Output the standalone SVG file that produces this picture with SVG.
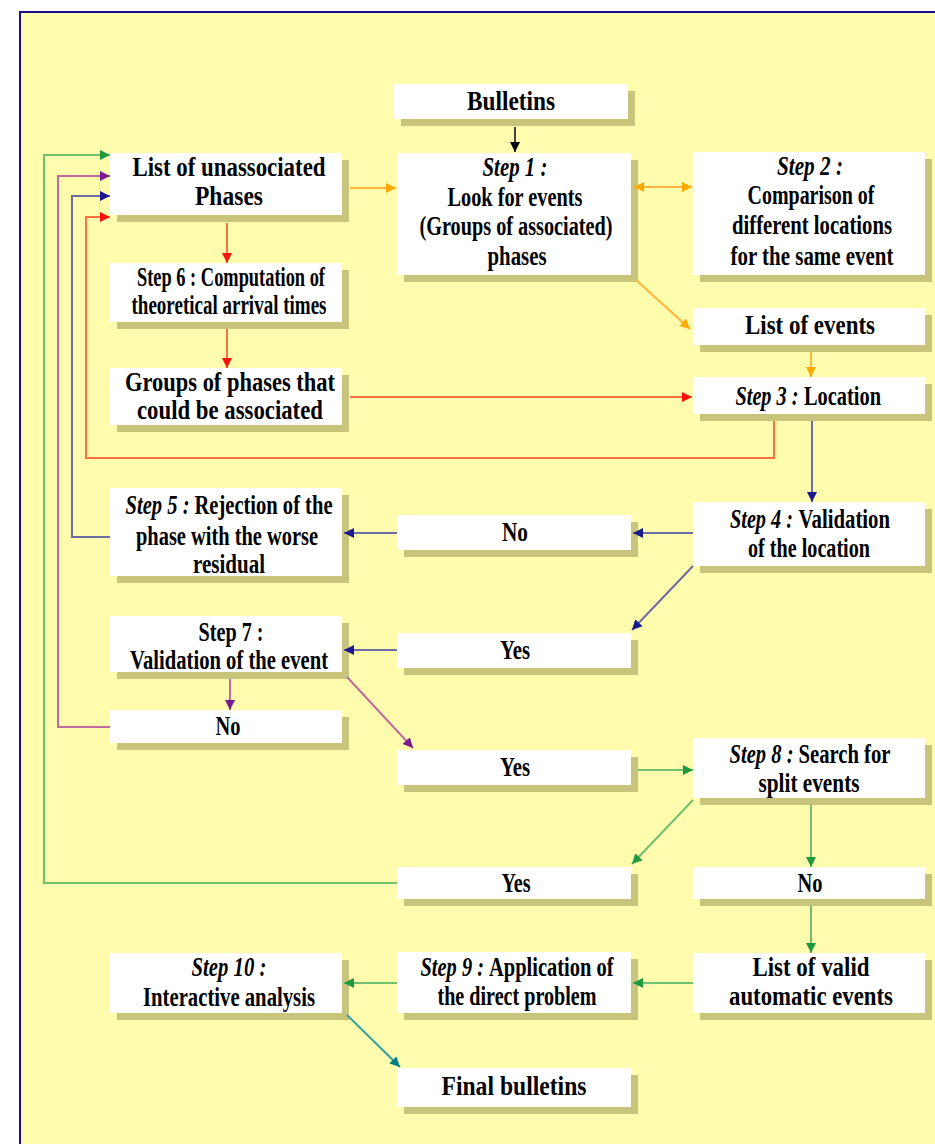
<svg xmlns="http://www.w3.org/2000/svg" width="935" height="1144" viewBox="0 0 935 1144">
<style>
.bg{fill:#FFFCAE}
.frame{fill:none;stroke:#1C0C8C;stroke-width:2}
.sh{fill:#C8C47C}
.bx{fill:#FFFFFF}
text{font-family:"Liberation Serif","Times New Roman",serif;font-weight:700;font-size:20.5px;fill:#000;text-anchor:middle}
text.s{text-anchor:start}
.i{font-style:italic}
.c{fill:none;stroke-width:2}
.k{stroke:#404040}
.g{stroke:#FFB43C}
.r{stroke:#FF7040}
.b{stroke:#6C6CA8}
.p{stroke:#C06AA0}
.n{stroke:#70C070}
.t{stroke:#30A0A0}
</style>
<defs>
<marker id="mk" viewBox="0 0 10 10" refX="10" refY="5" markerWidth="10" markerHeight="12" markerUnits="userSpaceOnUse" orient="auto"><path d="M0,0 L10,5 L0,10 z" fill="#000"/></marker>
<marker id="mg" viewBox="0 0 10 10" refX="10" refY="5" markerWidth="10" markerHeight="12" markerUnits="userSpaceOnUse" orient="auto-start-reverse"><path d="M0,0 L10,5 L0,10 z" fill="#FFA800"/></marker>
<marker id="mr" viewBox="0 0 10 10" refX="10" refY="5" markerWidth="10" markerHeight="12" markerUnits="userSpaceOnUse" orient="auto"><path d="M0,0 L10,5 L0,10 z" fill="#FF1010"/></marker>
<marker id="mb" viewBox="0 0 10 10" refX="10" refY="5" markerWidth="10" markerHeight="12" markerUnits="userSpaceOnUse" orient="auto"><path d="M0,0 L10,5 L0,10 z" fill="#1A1A8C"/></marker>
<marker id="mp" viewBox="0 0 10 10" refX="10" refY="5" markerWidth="10" markerHeight="12" markerUnits="userSpaceOnUse" orient="auto"><path d="M0,0 L10,5 L0,10 z" fill="#7A1A90"/></marker>
<marker id="mn" viewBox="0 0 10 10" refX="10" refY="5" markerWidth="10" markerHeight="12" markerUnits="userSpaceOnUse" orient="auto"><path d="M0,0 L10,5 L0,10 z" fill="#1E9A3C"/></marker>
<marker id="mt" viewBox="0 0 10 10" refX="10" refY="5" markerWidth="10" markerHeight="12" markerUnits="userSpaceOnUse" orient="auto"><path d="M0,0 L10,5 L0,10 z" fill="#008080"/></marker>
</defs>
<rect x="0" y="0" width="935" height="1144" fill="#FFFFFF"/>
<rect class="bg" x="20" y="12" width="930" height="1140"/>
<rect class="frame" x="20" y="12" width="930" height="1140"/>

<g id="bulletins"><rect class="sh" x="401" y="91" width="234" height="35"/><rect class="bx" x="394" y="84" width="234" height="35"/><text transform="translate(0 110) scale(1 1.3)" x="511" y="0" textLength="88" lengthAdjust="spacingAndGlyphs">Bulletins</text></g>
<g id="unassociated"><rect class="sh" x="117" y="160" width="232" height="62"/><rect class="bx" x="110" y="153" width="232" height="62"/><text transform="translate(0 176) scale(1 1.3)" x="229" y="0" textLength="193" lengthAdjust="spacingAndGlyphs">List of unassociated</text><text transform="translate(0 205) scale(1 1.3)" x="229" y="0" textLength="68" lengthAdjust="spacingAndGlyphs">Phases</text></g>
<g id="step1"><rect class="sh" x="404" y="160" width="234" height="122"/><rect class="bx" x="397" y="153" width="234" height="122"/><text transform="translate(0 176) scale(1 1.3)" x="515" y="0" textLength="65" lengthAdjust="spacingAndGlyphs" class="i">Step 1 :</text><text transform="translate(0 206) scale(1 1.3)" x="515" y="0" textLength="135" lengthAdjust="spacingAndGlyphs">Look for events</text><text transform="translate(0 235) scale(1 1.3)" x="516" y="0" textLength="193" lengthAdjust="spacingAndGlyphs">(Groups of associated)</text><text transform="translate(0 265) scale(1 1.3)" x="517" y="0" textLength="59" lengthAdjust="spacingAndGlyphs">phases</text></g>
<g id="step2"><rect class="sh" x="700" y="159" width="232" height="123"/><rect class="bx" x="693" y="152" width="232" height="123"/><text transform="translate(0 175) scale(1 1.3)" x="810" y="0" textLength="66" lengthAdjust="spacingAndGlyphs" class="i">Step 2 :</text><text transform="translate(0 204) scale(1 1.3)" x="811" y="0" textLength="127" lengthAdjust="spacingAndGlyphs">Comparison of</text><text transform="translate(0 234) scale(1 1.3)" x="812" y="0" textLength="160" lengthAdjust="spacingAndGlyphs">different locations</text><text transform="translate(0 265) scale(1 1.3)" x="812" y="0" textLength="163" lengthAdjust="spacingAndGlyphs">for the same event</text></g>
<g id="step6"><rect class="sh" x="117" y="270" width="232" height="59"/><rect class="bx" x="110" y="263" width="232" height="59"/><text transform="translate(0 286) scale(1 1.3)" x="231" y="0" textLength="188" lengthAdjust="spacingAndGlyphs">Step 6 : Computation of</text><text transform="translate(0 314) scale(1 1.3)" x="229" y="0" textLength="195" lengthAdjust="spacingAndGlyphs">theoretical arrival times</text></g>
<g id="groups"><rect class="sh" x="117" y="375" width="232" height="57"/><rect class="bx" x="110" y="368" width="232" height="57"/><text transform="translate(0 391) scale(1 1.3)" x="230" y="0" textLength="210" lengthAdjust="spacingAndGlyphs">Groups of phases that</text><text transform="translate(0 419) scale(1 1.3)" x="230" y="0" textLength="186" lengthAdjust="spacingAndGlyphs">could be associated</text></g>
<g id="events"><rect class="sh" x="700" y="315" width="232" height="37"/><rect class="bx" x="693" y="308" width="232" height="37"/><text transform="translate(0 334) scale(1 1.3)" x="810" y="0" textLength="130" lengthAdjust="spacingAndGlyphs">List of events</text></g>
<g id="step3"><rect class="sh" x="700" y="384" width="232" height="37"/><rect class="bx" x="693" y="377" width="232" height="37"/><text transform="translate(0 405) scale(1 1.3)" class="s i" x="735.5" y="0" textLength="63" lengthAdjust="spacingAndGlyphs">Step 3 :</text><text transform="translate(0 405) scale(1 1.3)" class="s" x="804" y="0" textLength="77" lengthAdjust="spacingAndGlyphs">Location</text></g>
<g id="step4"><rect class="sh" x="700" y="509" width="232" height="64"/><rect class="bx" x="693" y="502" width="232" height="64"/><text transform="translate(0 528) scale(1 1.3)" class="s i" x="730" y="0" textLength="63" lengthAdjust="spacingAndGlyphs">Step 4 :</text><text transform="translate(0 528) scale(1 1.3)" class="s" x="798.5" y="0" textLength="91.5" lengthAdjust="spacingAndGlyphs">Validation</text><text transform="translate(0 557) scale(1 1.3)" x="809" y="0" textLength="122" lengthAdjust="spacingAndGlyphs">of the location</text></g>
<g id="no1"><rect class="sh" x="404" y="522" width="234" height="35"/><rect class="bx" x="397" y="515" width="234" height="35"/><text transform="translate(0 541) scale(1 1.3)" x="515" y="0" textLength="26" lengthAdjust="spacingAndGlyphs">No</text></g>
<g id="step5"><rect class="sh" x="117" y="495" width="232" height="88"/><rect class="bx" x="110" y="488" width="232" height="88"/><text transform="translate(0 514) scale(1 1.3)" class="s i" x="125.5" y="0" textLength="64" lengthAdjust="spacingAndGlyphs">Step 5 :</text><text transform="translate(0 514) scale(1 1.3)" class="s" x="194.5" y="0" textLength="138" lengthAdjust="spacingAndGlyphs">Rejection of the</text><text transform="translate(0 545) scale(1 1.3)" x="227" y="0" textLength="182" lengthAdjust="spacingAndGlyphs">phase with the worse</text><text transform="translate(0 573) scale(1 1.3)" x="229" y="0" textLength="72" lengthAdjust="spacingAndGlyphs">residual</text></g>
<g id="yes1"><rect class="sh" x="404" y="640" width="234" height="35"/><rect class="bx" x="397" y="633" width="234" height="35"/><text transform="translate(0 659) scale(1 1.3)" x="515" y="0" textLength="30" lengthAdjust="spacingAndGlyphs">Yes</text></g>
<g id="step7"><rect class="sh" x="117" y="623" width="232" height="56"/><rect class="bx" x="110" y="616" width="232" height="56"/><text transform="translate(0 641) scale(1 1.3)" x="231" y="0" textLength="65" lengthAdjust="spacingAndGlyphs">Step 7 :</text><text transform="translate(0 669) scale(1 1.3)" x="229" y="0" textLength="198" lengthAdjust="spacingAndGlyphs">Validation of the event</text></g>
<g id="no2"><rect class="sh" x="117" y="717" width="232" height="33"/><rect class="bx" x="110" y="710" width="232" height="33"/><text transform="translate(0 735) scale(1 1.3)" x="228" y="0" textLength="25" lengthAdjust="spacingAndGlyphs">No</text></g>
<g id="yes2"><rect class="sh" x="404" y="757" width="234" height="35"/><rect class="bx" x="397" y="750" width="234" height="35"/><text transform="translate(0 776) scale(1 1.3)" x="515" y="0" textLength="30" lengthAdjust="spacingAndGlyphs">Yes</text></g>
<g id="step8"><rect class="sh" x="700" y="745" width="232" height="60"/><rect class="bx" x="693" y="738" width="232" height="60"/><text transform="translate(0 763) scale(1 1.3)" class="s i" x="729.5" y="0" textLength="64" lengthAdjust="spacingAndGlyphs">Step 8 :</text><text transform="translate(0 763) scale(1 1.3)" class="s" x="798.5" y="0" textLength="92" lengthAdjust="spacingAndGlyphs">Search for</text><text transform="translate(0 792) scale(1 1.3)" x="809" y="0" textLength="101" lengthAdjust="spacingAndGlyphs">split events</text></g>
<g id="yes3"><rect class="sh" x="404" y="874" width="234" height="32"/><rect class="bx" x="397" y="867" width="234" height="32"/><text transform="translate(0 892) scale(1 1.3)" x="516" y="0" textLength="29" lengthAdjust="spacingAndGlyphs">Yes</text></g>
<g id="no3"><rect class="sh" x="700" y="874" width="232" height="32"/><rect class="bx" x="693" y="867" width="232" height="32"/><text transform="translate(0 892) scale(1 1.3)" x="810" y="0" textLength="25" lengthAdjust="spacingAndGlyphs">No</text></g>
<g id="step10"><rect class="sh" x="117" y="960" width="232" height="60"/><rect class="bx" x="110" y="953" width="232" height="60"/><text transform="translate(0 976) scale(1 1.3)" x="229" y="0" textLength="75" lengthAdjust="spacingAndGlyphs" class="i">Step 10 :</text><text transform="translate(0 1006) scale(1 1.3)" x="229" y="0" textLength="172" lengthAdjust="spacingAndGlyphs">Interactive analysis</text></g>
<g id="step9"><rect class="sh" x="404" y="959" width="234" height="61"/><rect class="bx" x="397" y="952" width="234" height="61"/><text transform="translate(0 976) scale(1 1.3)" class="s i" x="420.5" y="0" textLength="63.5" lengthAdjust="spacingAndGlyphs">Step 9 :</text><text transform="translate(0 976) scale(1 1.3)" class="s" x="489" y="0" textLength="124.5" lengthAdjust="spacingAndGlyphs">Application of</text><text transform="translate(0 1005) scale(1 1.3)" x="517" y="0" textLength="159" lengthAdjust="spacingAndGlyphs">the direct problem</text></g>
<g id="valid"><rect class="sh" x="700" y="960" width="232" height="60"/><rect class="bx" x="693" y="953" width="232" height="60"/><text transform="translate(0 976) scale(1 1.3)" x="811" y="0" textLength="117" lengthAdjust="spacingAndGlyphs">List of valid</text><text transform="translate(0 1005) scale(1 1.3)" x="811" y="0" textLength="164" lengthAdjust="spacingAndGlyphs">automatic events</text></g>
<g id="final"><rect class="sh" x="404" y="1075" width="234" height="39"/><rect class="bx" x="397" y="1068" width="234" height="39"/><text transform="translate(0 1095) scale(1 1.3)" x="514" y="0" textLength="145" lengthAdjust="spacingAndGlyphs">Final bulletins</text></g>

<g id="connectors">
<path class="c k" d="M515,127 L515,152" marker-end="url(#mk)"/>
<path class="c g" d="M350,188 L396,188" marker-end="url(#mg)"/>
<path class="c g" d="M634,187 L692,187" marker-start="url(#mg)" marker-end="url(#mg)"/>
<path class="c g" d="M636,280 L690,329" marker-end="url(#mg)"/>
<path class="c g" d="M811,352 L811,377" marker-end="url(#mg)"/>
<path class="c r" d="M227,223 L227,263" marker-end="url(#mr)"/>
<path class="c r" d="M227,329 L227,368" marker-end="url(#mr)"/>
<path class="c r" d="M350,397 L692,397" marker-end="url(#mr)"/>
<path class="c r" d="M774,421 L774,458 L86,458 L86,217 L110,217" marker-end="url(#mr)"/>
<path class="c b" d="M812,421 L812,502" marker-end="url(#mb)"/>
<path class="c b" d="M693,533 L633,533" marker-end="url(#mb)"/>
<path class="c b" d="M397,533 L344,533" marker-end="url(#mb)"/>
<path class="c b" d="M693,566 L632,630" marker-end="url(#mb)"/>
<path class="c b" d="M397,650 L344,650" marker-end="url(#mb)"/>
<path class="c b" d="M110,537 L72,537 L72,196 L110,196" marker-end="url(#mb)"/>
<path class="c p" d="M230,679 L230,710" marker-end="url(#mp)"/>
<path class="c p" d="M347,677 L413,748" marker-end="url(#mp)"/>
<path class="c p" d="M110,727 L58,727 L58,176 L110,176" marker-end="url(#mp)"/>
<path class="c n" d="M638,770 L693,770" marker-end="url(#mn)"/>
<path class="c n" d="M693,800 L632,864" marker-end="url(#mn)"/>
<path class="c n" d="M811,805 L811,867" marker-end="url(#mn)"/>
<path class="c n" d="M811,906 L811,953" marker-end="url(#mn)"/>
<path class="c n" d="M693,983 L633,983" marker-end="url(#mn)"/>
<path class="c n" d="M397,983 L344,983" marker-end="url(#mn)"/>
<path class="c n" d="M397,883 L44,883 L44,155 L110,155" marker-end="url(#mn)"/>
<path class="c t" d="M347,1015 L400,1067" marker-end="url(#mt)"/>
</g>
</svg>
